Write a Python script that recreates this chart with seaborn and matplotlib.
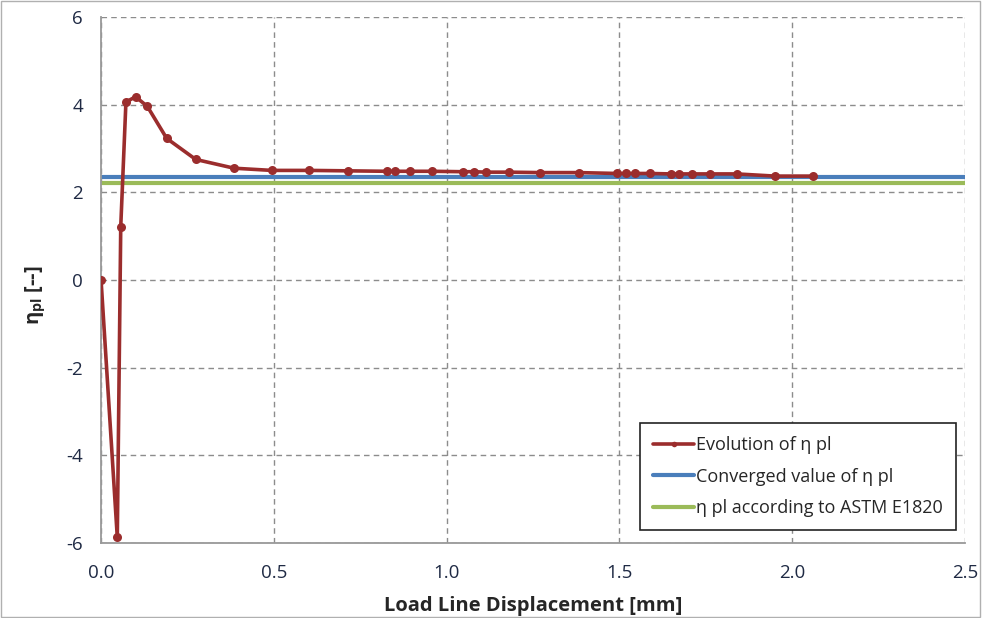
import numpy as np
import pandas as pd
import matplotlib
matplotlib.use('Agg')
import matplotlib.pyplot as plt
import seaborn as sns

# values
displacement = [0.0, 0.047, 0.057, 0.072, 0.100, 0.134, 0.190, 0.274, 0.385, 0.494,
                0.603, 0.716, 0.826, 0.852, 0.894, 0.957, 1.046, 1.078, 1.114, 1.181,
                1.270, 1.382, 1.494, 1.519, 1.546, 1.589, 1.648, 1.673, 1.709, 1.762,
                1.839, 1.950, 2.059]
eta_pl = [0.0, -5.87, 1.22, 4.06, 4.18, 3.96, 3.23, 2.75, 2.55, 2.50,
          2.50, 2.49, 2.48, 2.48, 2.48, 2.48, 2.47, 2.47, 2.46, 2.46,
          2.45, 2.45, 2.43, 2.43, 2.43, 2.43, 2.42, 2.42, 2.42, 2.42,
          2.42, 2.37, 2.37]
eta_converged = 2.36
eta_astm = 2.21
x_ticks = [0.0, 0.5, 1.0, 1.5, 2.0, 2.5]
y_ticks = [-6, -4, -2, 0, 2, 4, 6]

sns.set_theme(style='white')
plt.rcParams['font.family'] = ['Open Sans', 'DejaVu Sans']
plt.rcParams['axes.unicode_minus'] = False
plt.rcParams['mathtext.fontset'] = 'custom'
plt.rcParams['mathtext.bf'] = 'Open Sans:bold'
plt.rcParams['mathtext.rm'] = 'Open Sans'
plt.rcParams['mathtext.it'] = 'Open Sans:bold'

df = pd.DataFrame({'x': displacement, 'eta': eta_pl})

fig = plt.figure(figsize=(9.82, 6.18), dpi=100)
ax = fig.add_axes([0.1029, 0.1214, 0.8798, 0.8511])

ax.axhline(eta_converged, color='#4a7ebb', linewidth=3, label='Converged value of η pl', zorder=2)
ax.axhline(eta_astm, color='#9bbb59', linewidth=3, label='η pl according to ASTM E1820', zorder=2)
sns.lineplot(data=df, x='x', y='eta', ax=ax, color='#9b2d2d', linewidth=2.6,
             marker='o', markersize=6.5, markeredgewidth=0, sort=False,
             label='Evolution of η pl', zorder=3)

ax.set_xlim(0, 2.5)
ax.set_ylim(-6, 6)
ax.set_xticks(x_ticks)
ax.set_xticklabels([f'{t:.1f}' for t in x_ticks])
ax.set_yticks(y_ticks)
ax.set_yticklabels([str(t) for t in y_ticks])
ax.tick_params(axis='both', labelsize=13.5, colors='#1f2a44', length=8, width=1,
               direction='inout')
ax.tick_params(axis='x', pad=11)
ax.tick_params(axis='y', pad=9)
ax.tick_params(axis='both', color='#999999')

ax.grid(True, linestyle=(0, (4, 3)), color='#8c8c8c', linewidth=1)
for side in ['top', 'right']:
    ax.spines[side].set_visible(False)
for side in ['left', 'bottom']:
    ax.spines[side].set_color('#999999')
    ax.spines[side].set_linewidth(1.3)

ax.set_xlabel('Load Line Displacement [mm]', fontsize=14.5, fontweight='bold', labelpad=10)
ax.set_ylabel(r'$\mathbf{\eta}_{\mathbf{pl}}$ [--]', fontsize=14.5, fontweight='bold')
ax.yaxis.set_label_coords(-0.062, 0.47)

handles, labels = ax.get_legend_handles_labels()
order = [labels.index('Evolution of η pl'), labels.index('Converged value of η pl'),
         labels.index('η pl according to ASTM E1820')]
leg = ax.legend([handles[i] for i in order], [labels[i] for i in order],
                loc='lower right', bbox_to_anchor=(0.989, 0.025), fontsize=13,
                frameon=True, fancybox=False, framealpha=1, edgecolor='#222222',
                handlelength=2.3, handletextpad=0.1, borderpad=0.7, labelspacing=0.75,
                borderaxespad=0)
leg.get_frame().set_linewidth(1.2)
for h in leg.legend_handles:
    h.set_markersize(4)

fig.patches.append(plt.Rectangle((0.001, 0.001), 0.997, 0.997, transform=fig.transFigure,
                                 fill=False, edgecolor='#b0b0b0', linewidth=1))

fig.savefig('out.png', dpi=100)
